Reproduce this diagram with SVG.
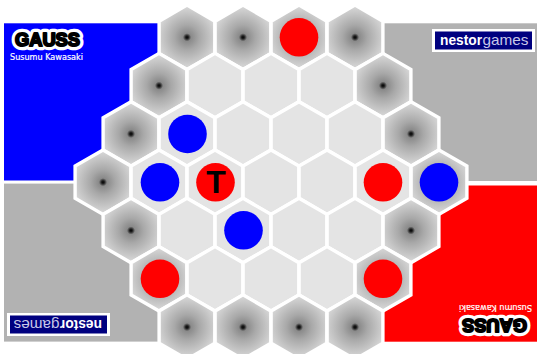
<svg xmlns="http://www.w3.org/2000/svg" width="537" height="354" viewBox="0 0 537 354">
<style>
.hex{stroke:#fff;stroke-width:3.4;stroke-linejoin:miter}
.cell{fill:#e4e4e4}
.edge{fill:url(#g)}
.r{fill:#f00}.b{fill:#00f}
.title{font-family:"Liberation Sans",Arial,sans-serif;font-weight:700;font-size:18.5px}
.by{font-family:"DejaVu Sans",sans-serif;font-size:8px;fill:#fff;stroke:#fff;stroke-width:.2}
.ng{font-size:15px}
</style>
<defs>
<radialGradient id="g" gradientUnits="userSpaceOnUse" cx="0" cy="0" r="31"><stop offset="0" stop-color="#000"/><stop offset=".05" stop-color="#222"/><stop offset=".13" stop-color="#8a8a8a"/><stop offset=".4" stop-color="#a8a8a8"/><stop offset=".75" stop-color="#c4c4c4"/><stop offset="1" stop-color="#d8d8d8"/></radialGradient>
<polygon id="h" class="hex" points="0,-32.2 27.9,-16.1 27.9,16.1 0,32.2 -27.9,16.1 -27.9,-16.1"/>
<g id="head"><text class="title" x="15" y="46" textLength="65" lengthAdjust="spacingAndGlyphs" stroke="#fff" stroke-width="8.5" stroke-linejoin="round" fill="#fff">GAUSS</text><text class="title" x="15" y="46" textLength="65" lengthAdjust="spacingAndGlyphs" stroke="#000" stroke-width="2" stroke-linejoin="round" fill="#000">GAUSS</text><text class="by" x="10" y="60" textLength="73" lengthAdjust="spacingAndGlyphs">Susumu Kawasaki</text></g>
<g id="logo"><rect x="432" y="29" width="103" height="23" fill="#fff"/><rect x="435" y="31.5" width="97" height="18" fill="#00007f"/><text class="ng" x="440" y="45" textLength="42" lengthAdjust="spacingAndGlyphs" font-family="Liberation Sans,Arial,sans-serif" font-weight="700" fill="#fff">nestor</text><text class="ng" x="482.5" y="45" textLength="46" lengthAdjust="spacingAndGlyphs" font-family="Liberation Sans,sans-serif" fill="#c8c8e8">games</text></g>
</defs>
<rect width="537" height="354" fill="#fff"/>
<g id="panels">
<rect x="4" y="23.3" width="160" height="157.2" fill="#00f"/>
<rect x="380" y="23.3" width="157" height="157.7" fill="#b2b2b2"/>
<rect x="4" y="183.6" width="160" height="158" fill="#b2b2b2"/>
<rect x="380" y="185.5" width="157" height="156.2" fill="#f00"/>
</g>
<g id="board">
<use href="#h" class="edge" x="187" y="37.3"/><use href="#h" class="edge" x="243" y="37.3"/><use href="#h" class="edge" x="299" y="37.3"/><use href="#h" class="edge" x="355" y="37.3"/>
<use href="#h" class="edge" x="159" y="85.6"/><use href="#h" class="cell" x="215" y="85.6"/><use href="#h" class="cell" x="271" y="85.6"/><use href="#h" class="cell" x="327" y="85.6"/><use href="#h" class="edge" x="383" y="85.6"/>
<use href="#h" class="edge" x="131" y="133.9"/><use href="#h" class="cell" x="187" y="133.9"/><use href="#h" class="cell" x="243" y="133.9"/><use href="#h" class="cell" x="299" y="133.9"/><use href="#h" class="cell" x="355" y="133.9"/><use href="#h" class="edge" x="411" y="133.9"/>
<use href="#h" class="edge" x="103" y="182.2"/><use href="#h" class="cell" x="159" y="182.2"/><use href="#h" class="cell" x="215" y="182.2"/><use href="#h" class="cell" x="271" y="182.2"/><use href="#h" class="cell" x="327" y="182.2"/><use href="#h" class="cell" x="383" y="182.2"/><use href="#h" class="edge" x="439" y="182.2"/>
<use href="#h" class="edge" x="131" y="230.5"/><use href="#h" class="cell" x="187" y="230.5"/><use href="#h" class="cell" x="243" y="230.5"/><use href="#h" class="cell" x="299" y="230.5"/><use href="#h" class="cell" x="355" y="230.5"/><use href="#h" class="edge" x="411" y="230.5"/>
<use href="#h" class="edge" x="159" y="278.8"/><use href="#h" class="cell" x="215" y="278.8"/><use href="#h" class="cell" x="271" y="278.8"/><use href="#h" class="cell" x="327" y="278.8"/><use href="#h" class="edge" x="383" y="278.8"/>
<use href="#h" class="edge" x="187" y="327.1"/><use href="#h" class="edge" x="243" y="327.1"/><use href="#h" class="edge" x="299" y="327.1"/><use href="#h" class="edge" x="355" y="327.1"/>
</g>
<g id="pieces">
<circle class="r" cx="299" cy="37.3" r="19.3"/>
<circle class="b" cx="187.5" cy="134" r="19.3"/>
<circle class="b" cx="160" cy="182.3" r="19.3"/>
<g id="t"><circle class="r" cx="215.5" cy="182.3" r="19.3"/><text x="216" y="193.3" text-anchor="middle" font-family="Liberation Sans,Arial,sans-serif" font-size="32" font-weight="700">T</text></g>
<circle class="r" cx="383" cy="182.3" r="19.3"/>
<circle class="b" cx="439" cy="182.3" r="19.3"/>
<circle class="b" cx="243.5" cy="230.3" r="19.3"/>
<circle class="r" cx="160" cy="278.8" r="19.3"/>
<circle class="r" cx="383" cy="278.8" r="19.3"/>
</g>
<use id="head-blue" href="#head"/>
<use id="head-red" href="#head" transform="rotate(180 271 182.5)"/>
<use id="logo-top" href="#logo"/>
<use id="logo-bottom" href="#logo" transform="rotate(180 271 182.5)"/>
</svg>
